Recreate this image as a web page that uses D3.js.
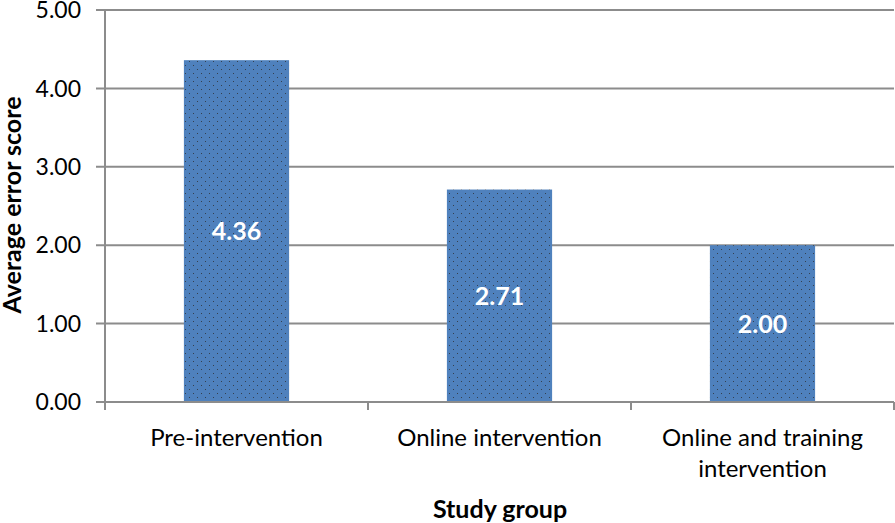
<!DOCTYPE html>
<html><head><meta charset="utf-8">
<script src="https://cdn.jsdelivr.net/npm/d3@7"></script>
<style>body{margin:0;background:#fff}text{font-family:Lato,"Open Sans",sans-serif}</style>
</head><body>
<svg id="c" width="895" height="523"></svg>
<script>
const categories = [["Pre-intervention"], ["Online intervention"], ["Online and training", "intervention"]];
const values = [4.36, 2.71, 2.00];
const yTicks = [0, 1, 2, 3, 4, 5];
const yTitle = "Average error score";
const xTitle = "Study group";

const svg = d3.select("#c");
const m = {l:105, r:894, t:10, b:402};
const x = d3.scaleBand().domain(d3.range(categories.length)).range([m.l, m.r]).padding(0);
const y = d3.scaleLinear().domain([0,5]).range([m.b, m.t]);

const defs = svg.append("defs");
const pat = defs.append("pattern").attr("id","dots").attr("patternUnits","userSpaceOnUse").attr("width",8).attr("height",8);
pat.append("rect").attr("width",8).attr("height",8).attr("fill","#4f81bd");
pat.append("rect").attr("x",1).attr("y",1).attr("width",1).attr("height",1).attr("fill","#34404f");
pat.append("rect").attr("x",5).attr("y",5).attr("width",1).attr("height",1).attr("fill","#34404f");

// gridlines
svg.append("g").selectAll("line").data(yTicks.filter(d=>d>0)).join("line")
  .attr("x1", m.l-9).attr("x2", m.r).attr("y1", d=>y(d)).attr("y2", d=>y(d))
  .attr("stroke","#8c8c8c").attr("stroke-width",2);

// bars
const bw = x.bandwidth()*0.4;
svg.append("g").selectAll("rect").data(values).join("rect")
  .attr("x",(d,i)=>x(i)+x.bandwidth()/2-bw/2).attr("width",bw)
  .attr("y",d=>y(d)).attr("height",d=>y(0)-y(d))
  .attr("fill","url(#dots)");

// y axis
svg.append("line").attr("x1",m.l).attr("x2",m.l).attr("y1",m.t).attr("y2",m.b+1).attr("stroke","#8c8c8c").attr("stroke-width",2);
svg.append("line").attr("x1",m.l-9).attr("x2",m.r).attr("y1",y(0)).attr("y2",y(0)).attr("stroke","#8c8c8c").attr("stroke-width",2);
svg.append("g").selectAll("text").data(yTicks).join("text")
  .attr("x",81).attr("y",d=>y(d)).attr("dy","0.36em").attr("text-anchor","end")
  .attr("font-size",23).attr("fill","#000").text(d=>d.toFixed(2));

// x ticks
const xt = d3.range(categories.length+1).map(i=> i<categories.length ? x(i) : m.r);
svg.append("g").selectAll("line").data(xt).join("line")
  .attr("x1",d=>d).attr("x2",d=>d).attr("y1",y(0)).attr("y2",y(0)+8)
  .attr("stroke","#8c8c8c").attr("stroke-width",2);

// category labels
categories.forEach((lines,i)=>{
  const t = svg.append("text").attr("x",x(i)+x.bandwidth()/2).attr("y",446)
    .attr("text-anchor","middle").attr("font-size",24).attr("fill","#000");
  lines.forEach((s,j)=>t.append("tspan").attr("x",x(i)+x.bandwidth()/2).attr("dy",j?31:0).text(s));
});

// value labels
svg.append("g").selectAll("text").data(values).join("text")
  .attr("x",(d,i)=>x(i)+x.bandwidth()/2).attr("y",d=>(y(d)+y(0))/2).attr("dy","0.36em")
  .attr("text-anchor","middle").attr("font-size",25).attr("font-weight","bold").attr("fill","#fff")
  .text(d=>d.toFixed(2));

// titles
svg.append("text").attr("x",500).attr("y",518).attr("text-anchor","middle")
  .attr("font-size",25).attr("font-weight","bold").text(xTitle);
svg.append("text").attr("transform","translate(21,205) rotate(-90)").attr("text-anchor","middle")
  .attr("font-size",25).attr("font-weight","bold").text(yTitle);
</script>
</body></html>
